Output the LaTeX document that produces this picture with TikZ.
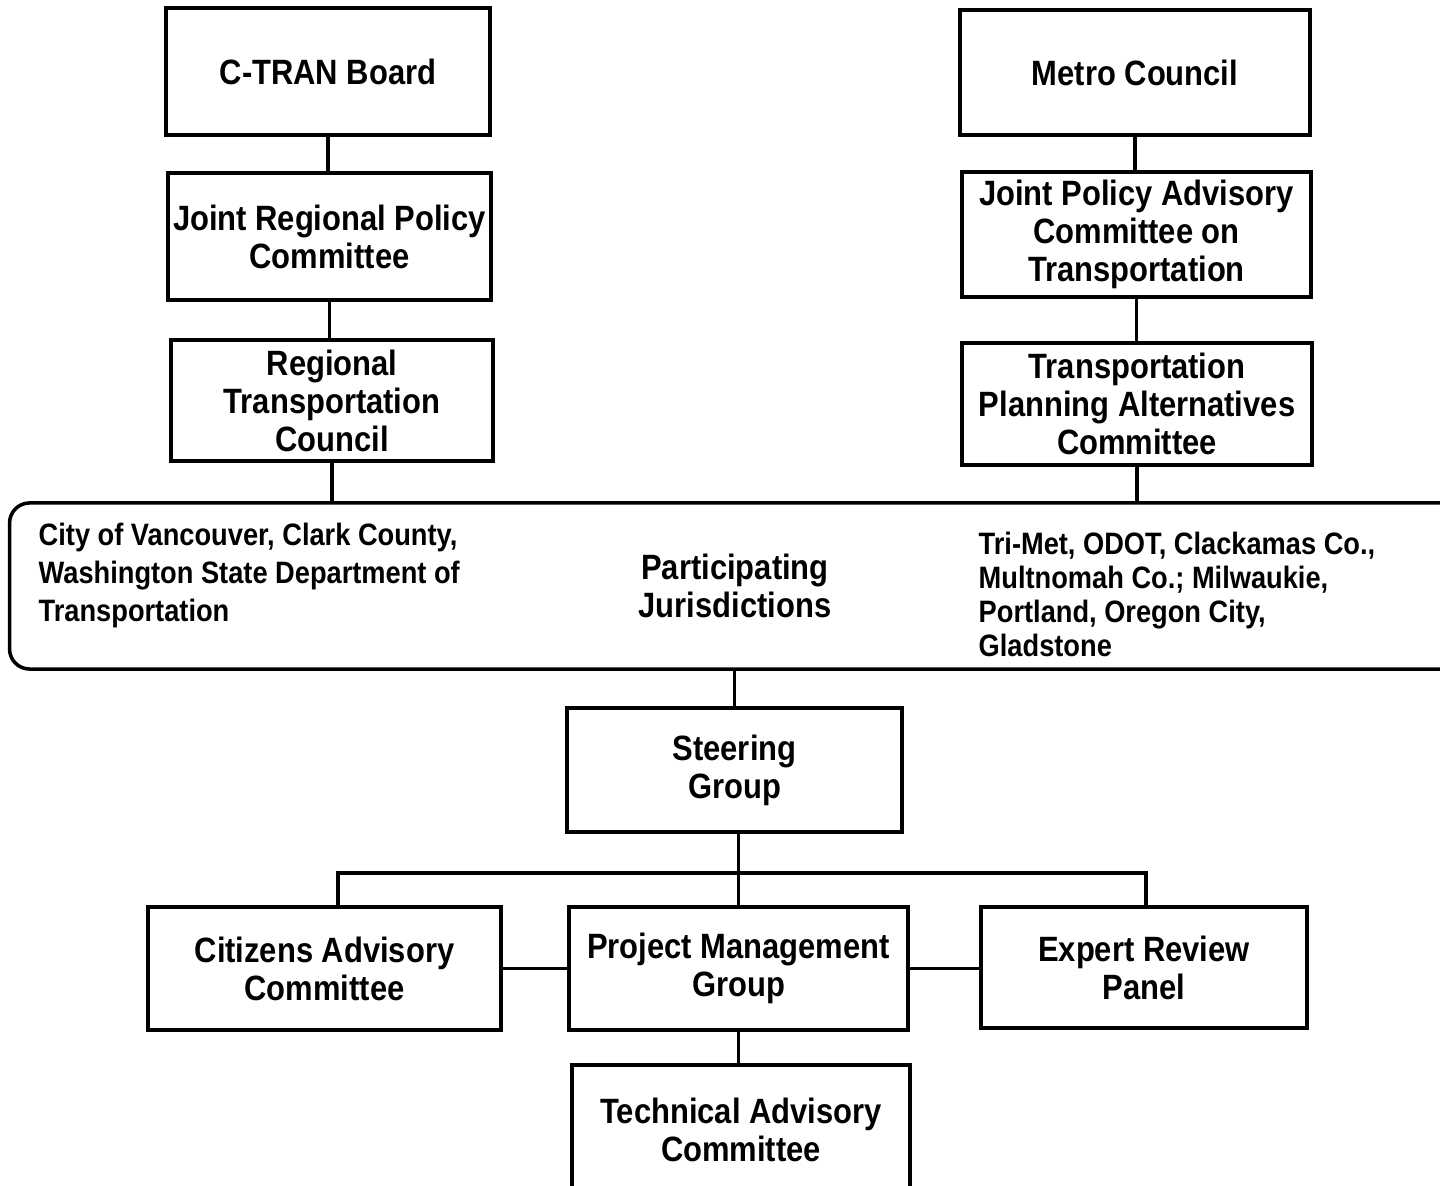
\documentclass[tikz,border=0pt]{standalone}
\usepackage{fontspec}
\newfontfamily\orgfont{Liberation Sans}[FakeStretch=0.88]
\usepackage{tikz}
\usetikzlibrary{positioning}

\begin{document}
\begin{tikzpicture}[
    x=0.01cm, y=-0.01cm,
    font=\orgfont\bfseries\fontsize{10}{10.8}\selectfont,
    orgbox/.style={rectangle, draw=black, line width=1pt, align=center, inner sep=0pt, outer sep=0pt},
    sidetext/.style={align=left, anchor=north west, inner sep=0pt},
    link/.style={draw=black, line width=1pt}
]
    \useasboundingbox (0,0) rectangle (1440,1186);

    % Clark County side
    \node[orgbox, minimum width=3.24cm, minimum height=1.27cm] (ctran) at (328,71.5) {C-TRAN Board};
    \node[orgbox, minimum width=3.23cm, minimum height=1.27cm] (jrpc) at (329.5,236.5) {Joint Regional Policy\\Committee};
    \node[orgbox, minimum width=3.22cm, minimum height=1.21cm] (rtc) at (332,400.5) {Regional\\Transportation\\Council};

    % Metro side
    \node[orgbox, minimum width=3.50cm, minimum height=1.25cm] (metro) at (1135,72.5) {Metro Council};
    \node[orgbox, minimum width=3.49cm, minimum height=1.25cm] (jpact) at (1136.5,234.5) {Joint Policy Advisory\\Committee on\\Transportation};
    \node[orgbox, minimum width=3.50cm, minimum height=1.22cm] (tpac) at (1137,404) {Transportation\\Planning Alternatives\\Committee};

    % Participating jurisdictions
    \node[orgbox, rounded corners=0.2cm, minimum width=14.50cm, minimum height=1.66cm] (juris) at (735,586) {Participating\\Jurisdictions};
    \node[sidetext, font=\orgfont\bfseries\fontsize{8.8}{10.8}\selectfont] (wa) at (38,522) {City of Vancouver, Clark County,\\Washington State Department of\\Transportation};
    \node[sidetext, font=\orgfont\bfseries\fontsize{8.8}{9.7}\selectfont] (or) at (978,531) {Tri-Met, ODOT, Clackamas Co.,\\Multnomah Co.; Milwaukie,\\Portland, Oregon City,\\Gladstone};

    % Project groups
    \node[orgbox, minimum width=3.35cm, minimum height=1.24cm] (steer) at (734.5,770) {Steering\\Group};
    \node[orgbox, minimum width=3.53cm, minimum height=1.23cm] (cac) at (324.5,968.5) {Citizens Advisory\\Committee};
    \node[orgbox, minimum width=3.39cm, minimum height=1.23cm] (pmg) at (738.5,968.5) {Project Management\\Group};
    \node[orgbox, minimum width=3.26cm, minimum height=1.21cm] (erp) at (1144,967.5) {Expert Review\\Panel};
    \node[orgbox, minimum width=3.38cm, minimum height=1.30cm] (tac) at (741,1130) {Technical Advisory\\Committee};

    % Connections
    \draw[link] (ctran.south) -- (ctran.south |- jrpc.north);
    \draw[link] (jrpc.south) -- (jrpc.south |- rtc.north);
    \draw[link] (rtc.south) -- (rtc.south |- juris.north);
    \draw[link] (metro.south) -- (metro.south |- jpact.north);
    \draw[link] (jpact.south) -- (jpact.south |- tpac.north);
    \draw[link] (tpac.south) -- (tpac.south |- juris.north);
    \draw[link] (steer.north) -- (steer.north |- juris.south);
    \draw[link] (pmg.north |- steer.south) -- (pmg.north);

    % Branch bar
    \coordinate (busl) at (338,873);
    \coordinate (busr) at (1146,873);
    \draw[link] (busl |- cac.north) -- (busl) -- (busr) -- (busr |- erp.north);
    \draw[link] (cac.east) -- (cac.east -| pmg.west);
    \draw[link] (pmg.east) -- (pmg.east -| erp.west);
    \draw[link] (pmg.south) -- (pmg.south |- tac.north);
\end{tikzpicture}
\end{document}
